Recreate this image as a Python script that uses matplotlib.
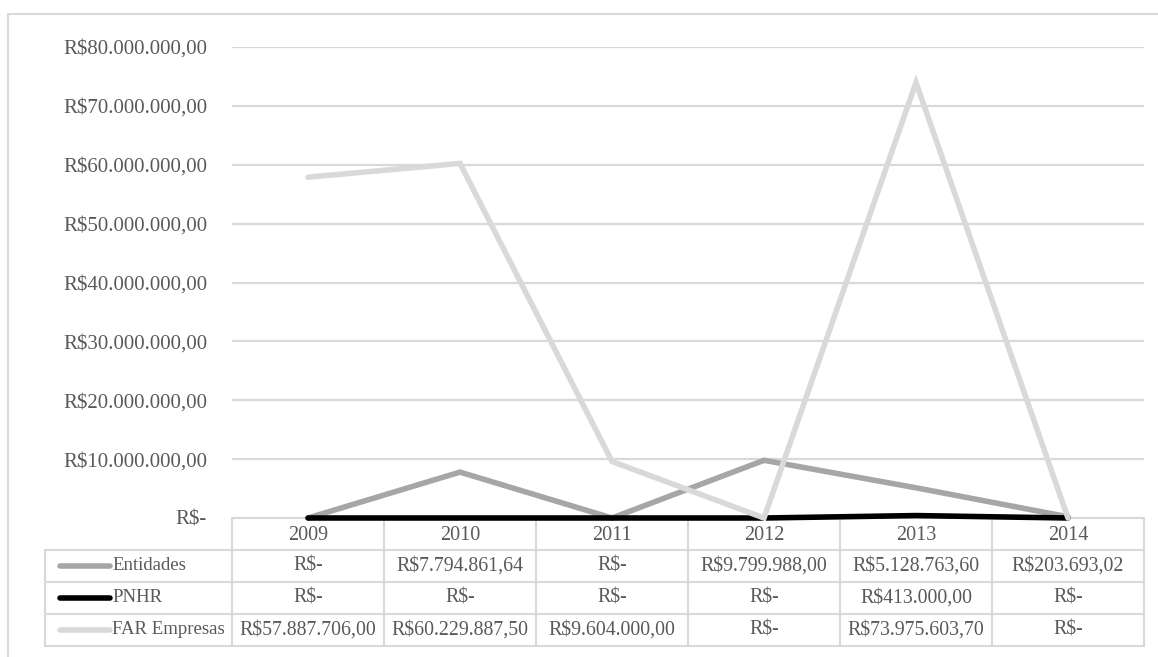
import matplotlib.pyplot as plt
from matplotlib.ticker import FuncFormatter

# Data
years = ["2009", "2010", "2011", "2012", "2013", "2014"]
entidades = [0, 7794861.64, 0, 9799988.00, 5128763.60, 203693.02]
pnhr = [0, 0, 0, 0, 413000.00, 0]
far_empresas = [57887706.00, 60229887.50, 9604000.00, 0, 73975603.70, 0]

series_names = ["Entidades", "PNHR", "FAR Empresas"]
series_values = [entidades, pnhr, far_empresas]
series_colors = ["#a6a6a6", "#000000", "#d9d9d9"]

TEXT = "#595959"
GRID = "#d9d9d9"
FONT = "Liberation Serif"
FS = 15

W, H = 1158, 657


def brl(v):
    if v == 0:
        return "R$-"
    s = f"{v:,.2f}"
    s = s.replace(",", "X").replace(".", ",").replace("X", ".")
    return "R$" + s


fig = plt.figure(figsize=(W / 100, H / 100), dpi=100)

# Pixel geometry of the plot area and table
left, right = 232, 1144
top, bottom = 47, 518
row_h = 32
label_left = 45
col_w = (right - left) / len(years)

ax = fig.add_axes([left / W, 1 - bottom / H, (right - left) / W, (bottom - top) / H])
x = list(range(len(years)))
for i, (name, vals, col) in enumerate(zip(series_names, series_values, series_colors)):
    ax.plot(x, vals, color=col, lw=4.0, solid_capstyle="round",
            solid_joinstyle="miter", zorder=3 + i, clip_on=False)

ax.set_xlim(-0.5, len(years) - 0.5)
ax.set_ylim(0, 80000000)
ax.set_yticks(range(0, 80000001, 10000000))
ax.yaxis.set_major_formatter(FuncFormatter(lambda v, p: brl(v)))
ax.set_xticks([])
ax.grid(axis="y", color=GRID, lw=1.6, zorder=1)
ax.tick_params(axis="y", length=0, pad=18, labelcolor=TEXT, labelsize=FS)
for lab in ax.get_yticklabels():
    lab.set_fontfamily(FONT)
for sp in ax.spines.values():
    sp.set_visible(False)

# Overlay in pixel coordinates for table and border
ov = fig.add_axes([0, 0, 1, 1], zorder=-1)
ov.set_xlim(0, W)
ov.set_ylim(H, 0)
ov.axis("off")

# outer chart border
ov.plot([8, W], [14, 14], color=GRID, lw=1.5)
ov.plot([8, 8], [14, H], color=GRID, lw=1.5)

n_rows = len(series_names)
tbl_bottom = bottom + row_h * (n_rows + 1)

# horizontal lines
ov.plot([left, right], [bottom, bottom], color=GRID, lw=1.5)
for r in range(1, n_rows + 2):
    y = bottom + r * row_h
    ov.plot([label_left, right], [y, y], color=GRID, lw=1.5)
# vertical lines
ov.plot([label_left, label_left], [bottom + row_h, tbl_bottom], color=GRID, lw=1.5)
for c in range(len(years) + 1):
    xc = left + c * col_w
    ov.plot([xc, xc], [bottom, tbl_bottom], color=GRID, lw=1.5)

# header
for c, yr in enumerate(years):
    ov.text(left + (c + 0.5) * col_w, bottom + row_h / 2 + 1, yr, ha="center",
            va="center", fontsize=14.5, color=TEXT, family=FONT)

# rows
for r, (name, vals, col) in enumerate(zip(series_names, series_values, series_colors)):
    yc = bottom + (r + 1.5) * row_h
    ov.plot([60, 110], [yc, yc], color=col, lw=4.0, solid_capstyle="round")
    ov.text(112, yc, name, ha="left", va="center", fontsize=13.5, color=TEXT, family=FONT)
    for c, v in enumerate(vals):
        ov.text(left + (c + 0.5) * col_w, yc, brl(v), ha="center", va="center",
                fontsize=14.3, color=TEXT, family=FONT)

fig.savefig("out.png", dpi=100)
